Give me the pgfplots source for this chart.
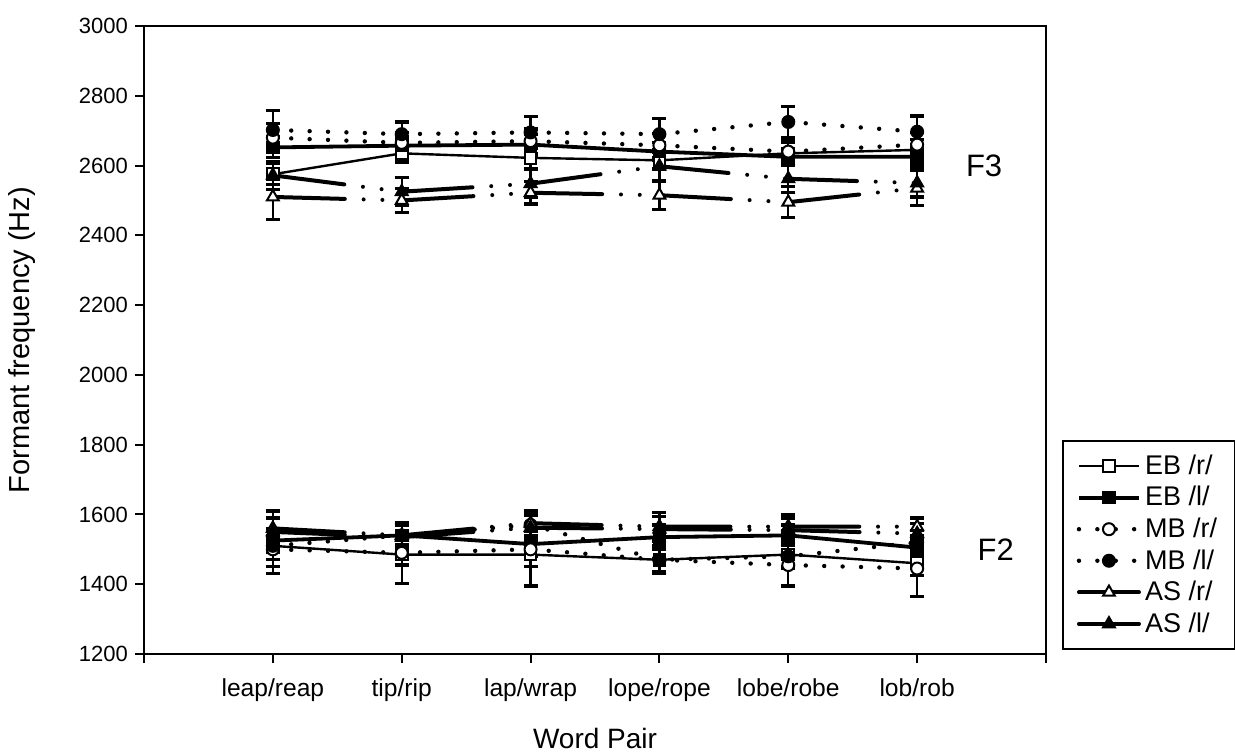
\documentclass[border=0pt]{standalone}
\usepackage{fontspec}
\setmainfont{Liberation Sans}
\usepackage{pgfplots}
\pgfplotsset{compat=1.18}

\pgfplotsset{
  errs/.style={
    error bars/y dir=both, error bars/y explicit,
    error bars/error bar style={solid, line width=1.1pt, black},
    error bars/error mark options={solid, rotate=90, line width=1.6pt, mark size=3.5pt, black}},
  ebr/.style={black, solid, line width=1.2pt, mark=square*, mark size=2.9pt,
    mark options={solid, fill=white, line width=1pt}, errs},
  ebl/.style={black, solid, line width=1.9pt, mark=square*, mark size=2.9pt,
    mark options={solid, fill=black, line width=1pt}, errs},
  mbr/.style={black, line width=2.2pt, line cap=round, dash pattern=on 0pt off 9.2pt,
    mark=*, mark size=3pt, mark options={solid, fill=white, line width=1pt}, errs},
  mbl/.style={black, line width=2.2pt, line cap=round, dash pattern=on 0pt off 9.2pt,
    mark=*, mark size=3pt, mark options={solid, fill=black, line width=1pt}, errs},
  asr/.style={black, line width=2pt, line cap=round,
    dash pattern=on 36pt off 9.4pt on 0pt off 9.4pt on 0pt off 9.6pt,
    mark=triangle*, mark size=3.4pt, mark options={solid, fill=white, line width=1pt}, errs},
  asl/.style={black, line width=2pt, line cap=round,
    dash pattern=on 36pt off 9.4pt on 0pt off 9.4pt on 0pt off 9.6pt,
    mark=triangle*, mark size=3.4pt, mark options={solid, fill=black, line width=1pt}, errs},
}

\begin{document}
\begin{tikzpicture}
\useasboundingbox (-72pt,-50.5pt) rectangle (545.5pt,327pt);
\begin{axis}[
  scale only axis,
  width=451pt, height=314pt,
  xmin=0, xmax=7, ymin=1200, ymax=3000,
  xtick={0,...,7},
  xticklabels={,leap/reap,tip/rip,lap/wrap,lope/rope,lobe/robe,lob/rob,},
  ytick={1200,1400,...,3000},
  /pgf/number format/assume math mode=true,
  /pgf/number format/1000 sep={},
  tick align=outside, major tick length=4.5pt,
  xtick pos=bottom, ytick pos=left,
  axis line style={line width=1pt},
  tick style={line width=1pt, black},
  yticklabel style={font=\fontsize{11}{13}\selectfont},
  xticklabel style={font=\fontsize{12.3}{14}\selectfont, yshift=-4.5pt},
  xlabel={Word Pair},
  ylabel={Formant frequency (Hz)},
  xlabel style={font=\fontsize{14}{16}\selectfont, at={(axis description cs:0.5,-0.1338)}, anchor=center},
  ylabel style={font=\fontsize{14.5}{16}\selectfont, at={(axis description cs:-0.1353,0.5)}, anchor=center},
  legend style={at={(1.0177,0.3408)}, anchor=north west, draw=black,
    line width=0.8pt, font=\fontsize{13.5}{15}\selectfont,
    inner xsep=7pt, inner ysep=5pt, row sep=0.5pt},
  legend cell align=left,
  legend image code/.code={%
    \draw[mark repeat=2, mark phase=2, #1] plot coordinates {(0pt,0pt) (15pt,0pt) (30pt,0pt)};},
]

% ---- F3 ----
\addplot[ebr] table[y error=e] {
x y e
1 2575 30
2 2635 25
3 2622 30
4 2615 25
5 2635 30
6 2645 30
};
\addlegendentry{EB /r/}
\addplot[ebl] table[y error=e] {
x y e
1 2652 30
2 2657 25
3 2660 30
4 2640 25
5 2625 25
6 2625 25
};
\addlegendentry{EB /l/}
\addplot[mbr] table[y error=e] {
x y e
1 2680 40
2 2665 30
3 2670 35
4 2658 35
5 2640 35
6 2660 35
};
\addlegendentry{MB /r/}
\addplot[mbl] table[y error=e] {
x y e
1 2702 55
2 2690 35
3 2695 45
4 2690 45
5 2725 45
6 2697 45
};
\addlegendentry{MB /l/}
\addplot[asr] table[y error=e] {
x y e
1 2510 65
2 2500 35
3 2522 32
4 2515 40
5 2495 45
6 2535 50
};
\addlegendentry{AS /r/}
\addplot[asl] table[y error=e] {
x y e
1 2572 40
2 2525 40
3 2548 40
4 2598 40
5 2562 40
6 2550 40
};
\addlegendentry{AS /l/}

% ---- F2 ----
\addplot[forget plot, ebr] table[y error=e] {
x y e
1 1510 80
2 1485 30
3 1485 35
4 1470 35
5 1485 35
6 1460 35
};
\addplot[forget plot, ebl] table[y error=e] {
x y e
1 1525 35
2 1540 30
3 1515 35
4 1535 35
5 1540 30
6 1505 30
};
\addplot[forget plot, mbr] table[y error=e] {
x y e
1 1500 50
2 1490 88
3 1500 105
4 1470 35
5 1455 60
6 1445 80
};
\addplot[forget plot, mbl] table[y error=e] {
x y e
1 1510 40
2 1540 30
3 1570 40
4 1470 40
5 1480 35
6 1520 35
};
\addplot[forget plot, asr] table[y error=e] {
x y e
1 1560 50
2 1540 35
3 1575 35
4 1565 40
5 1565 35
6 1565 25
};
\addplot[forget plot, asl] table[y error=e] {
x y e
1 1550 40
2 1535 35
3 1562 35
4 1558 35
5 1555 35
6 1545 30
};

\node[font=\fontsize{15.5}{18}\selectfont] at (axis cs:6.52,2600) {F3};
\node[font=\fontsize{15.5}{18}\selectfont] at (axis cs:6.61,1500) {F2};
\end{axis}
\end{tikzpicture}
\end{document}
